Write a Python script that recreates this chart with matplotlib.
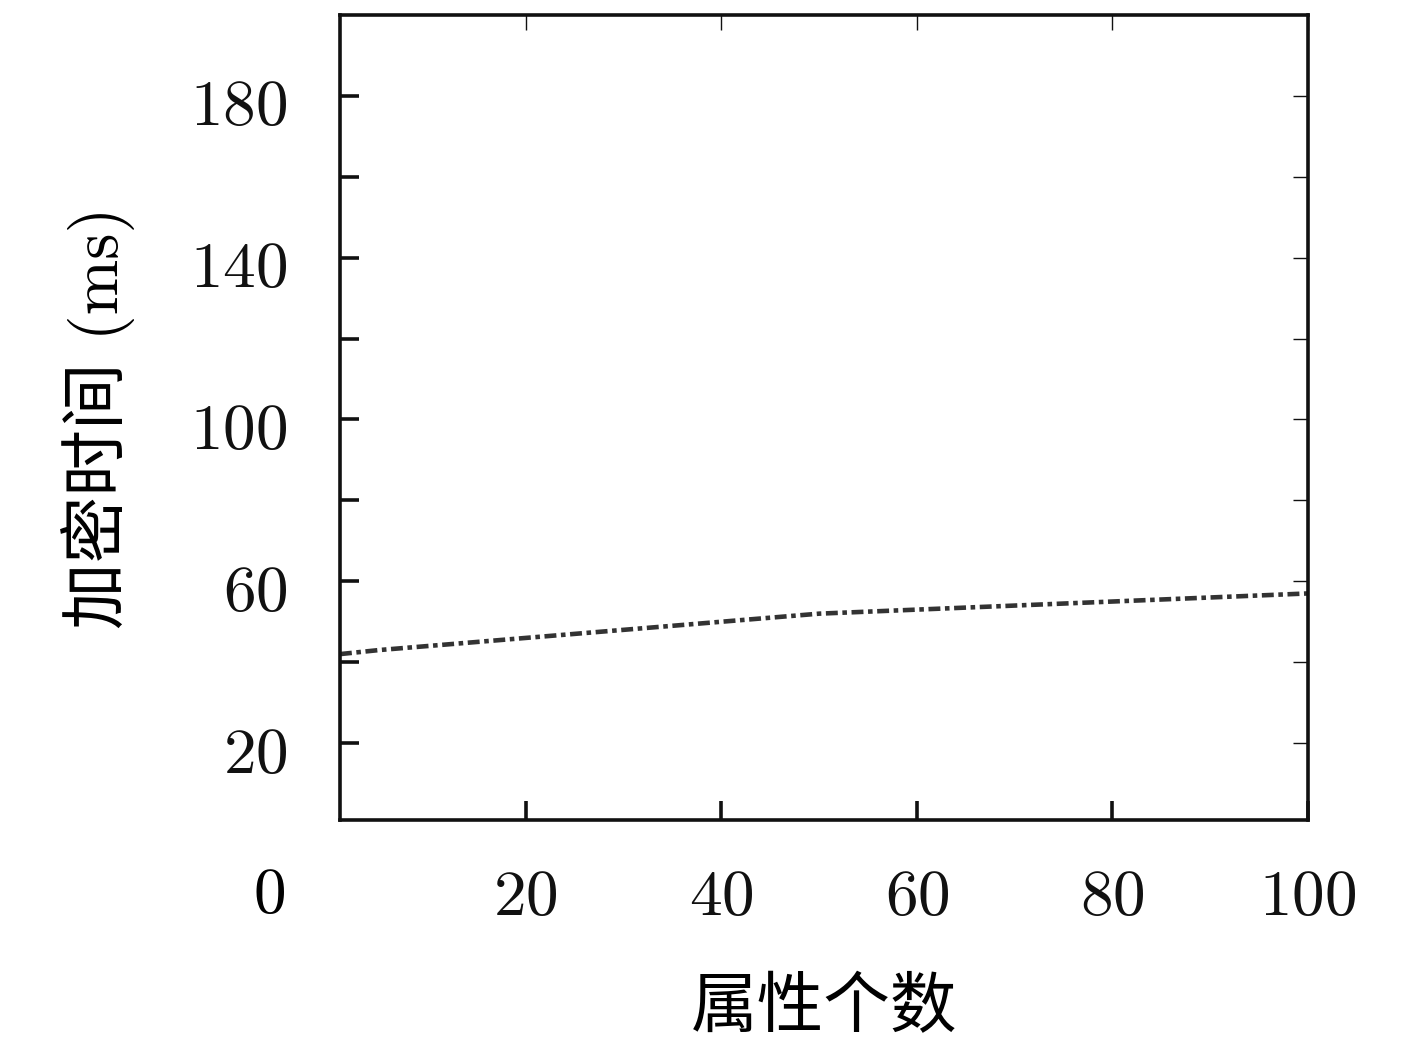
import matplotlib
matplotlib.use("Agg")
import matplotlib.pyplot as plt
from matplotlib.transforms import ScaledTranslation

plt.rcParams['font.family'] = ['cmr10', 'Noto Sans CJK SC', 'DejaVu Sans']
plt.rcParams['axes.formatter.use_mathtext'] = True

# data
attr_count = [1, 5, 50, 100]
enc_time = [42, 43, 52, 57]

x_ticks = [20, 40, 60, 80, 100]
y_ticks = [20, 60, 100, 140, 180]
y_minor = [40, 80, 120, 160]
x_label = "属性个数"
y_label = "加密时间 (ms)"


def main():
    fig = plt.figure(figsize=(14.17, 10.42), dpi=100)
    ax = fig.add_axes([0.2399, 0.2131, 0.6832, 0.7725])

    ax.plot(attr_count, enc_time, color="#333333", lw=3.3,
            linestyle=(0, (2.6, 1.0, 1.0, 1.0)))

    ax.set_xlim(1, 100)
    ax.set_ylim(1, 200)
    ax.set_xticks(x_ticks)
    ax.set_yticks(y_ticks)
    ax.set_yticks(y_minor, minor=True)

    for s in ax.spines.values():
        s.set_linewidth(2.6)
        s.set_color("#111111")

    ax.tick_params(which="both", direction="in", top=True, right=True,
                   labelsize=47, length=14, width=2.6, colors="#111111")
    ax.tick_params(axis="x", pad=36)
    ax.tick_params(axis="y", pad=38)
    for t in ax.xaxis.get_major_ticks():
        t.tick2line.set_markeredgewidth(1)
        t.tick2line.set_markersize(11)
    for t in ax.yaxis.get_major_ticks() + ax.yaxis.get_minor_ticks():
        t.tick2line.set_markeredgewidth(1)
        t.tick2line.set_markersize(11)

    # y labels sit a little below their ticks in the original
    shift = ScaledTranslation(0, -7 / 100, fig.dpi_scale_trans)
    for lab in ax.get_yticklabels():
        lab.set_transform(lab.get_transform() + shift)

    # stray origin label
    fig.text(270 / 1417, 1 - 897 / 1042, "0", fontsize=47,
             ha="center", va="center")

    ax.set_xlabel(x_label, fontsize=48)
    ax.xaxis.set_label_coords(0.5, -0.235)
    ax.set_ylabel(y_label, fontsize=48)
    ax.yaxis.set_label_coords(-0.25, 0.5)
    ax.yaxis.label.set_va("center")
    ax.xaxis.label.set_va("center")

    fig.savefig("out.png", dpi=100)


if __name__ == "__main__":
    main()
